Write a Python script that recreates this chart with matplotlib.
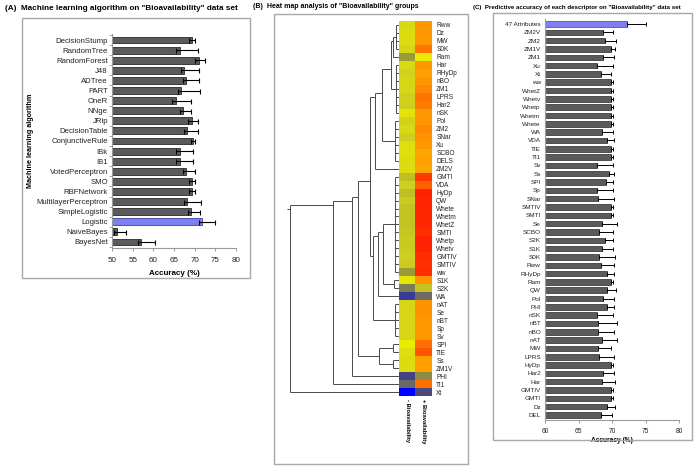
import numpy as np
import matplotlib.pyplot as plt
from matplotlib.colors import LinearSegmentedColormap
from matplotlib.patches import Rectangle

plt.rcParams['font.family'] = ['Liberation Sans', 'DejaVu Sans']

# (A) classifiers
algos = ['DecisionStump', 'RandomTree', 'RandomForest', 'J48', 'ADTree', 'PART', 'OneR',
         'NNge', 'JRip', 'DecisionTable', 'ConjunctiveRule', 'IBk', 'IB1', 'VotedPerceptron',
         'SMO', 'RBFNetwork', 'MultilayerPerceptron', 'SimpleLogistic', 'Logistic',
         'NaiveBayes', 'BayesNet']
algo_acc = [69.4, 66.5, 71.0, 67.5, 68.0, 66.8, 65.4, 67.2, 69.3, 68.2, 69.5, 66.4, 66.4,
            68.0, 69.3, 69.3, 68.2, 69.2, 71.8, 51.1, 57.1]
algo_err_hi = [0.7, 4.4, 1.5, 3.5, 3.1, 4.5, 3.7, 1.9, 1.6, 2.7, 0.5, 3.2, 3.2, 2.0, 0.7,
               0.7, 3.3, 2.1, 3.2, 2.2, 3.3]
algo_err_lo = [0.7, 0.9, 0.8, 0.8, 0.8, 0.8, 0.8, 0.8, 0.8, 0.8, 0.5, 0.8, 0.8, 0.8, 0.7,
               0.7, 0.8, 0.8, 0.8, 0.6, 0.8]

# (B) heat map rows (top to bottom) and colour scores for the two groups
rows = ['Rww', 'Dz', 'MW', 'S0K', 'Ram', 'Har', 'RHyDp', 'nBO', 'ZM1', 'LPRS', 'Har2', 'nSK',
        'Pol', 'ZM2', 'SNar', 'Xu', 'SCBO', 'DELS', 'ZM2V', 'GMTI', 'VDA', 'HyDp', 'QW',
        'Whete', 'Whetm', 'WhetZ', 'SMTI', 'Whetp', 'Whetv', 'GMTIV', 'SMTIV', 'ww', 'S1K',
        'S2K', 'WA', 'nAT', 'Se', 'nBT', 'Sp', 'Sv', 'SPI', 'TIE', 'Ss', 'ZM1V', 'PHI', 'TI1', 'Xt']
neg_bio = [.62, .63, .63, .61, .45, .62, .60, .61, .61, .59, .59, .65, .60, .62, .59, .64,
           .64, .63, .63, .55, .59, .55, .58, .56, .56, .56, .57, .58, .58, .59, .58, .45,
           .66, .35, .12, .61, .61, .61, .61, .61, .67, .64, .63, .63, .14, .28, .0]
pos_bio = [.79, .79, .79, .84, .67, .79, .78, .79, .81, .84, .83, .79, .79, .81, .80, .79,
           .77, .78, .77, .94, .87, .98, .97, .97, .97, .97, .96, .98, .98, .96, .95, .96,
           .80, .56, .30, .80, .80, .79, .79, .79, .85, .89, .78, .78, .40, .85, .15]
# dendrogram merges: (node, height, children); ints are rows, strings earlier nodes
tree = [
    ('a', 3, [0, 1, 2, 3]),
    ('b', 6, ['a', 4]),
    ('c', 3, [5, 6, 7, 8, 9, 10, 11]),
    ('d', 8, ['b', 'c']),
    ('e', 4, [12, 13, 14, 15, 16, 17]),
    ('f', 17, ['d', 'e']),
    ('g', 24, ['f', 18]),
    ('h', 4, [19, 20, 21, 22, 23, 24, 25, 26, 27, 28, 29, 30, 31]),
    ('i', 5, [32, 33]),
    ('j', 16, ['h', 'i']),
    ('k', 21, ['j', 34]),
    ('l', 4, [35, 36, 37, 38, 39]),
    ('m', 26, ['k', 'l']),
    ('n', 29, ['g', 'm']),
    ('o', 6, [40, 41]),
    ('p', 6, [42, 43]),
    ('q', 20, ['o', 'p']),
    ('r', 41, ['n', 'q']),
    ('s', 47, ['r', 44]),
    ('t', 66, ['s', 45]),
    ('u', 109, ['t', 46]),
]

# (C) single descriptors
desc = ['47 Attributes', 'ZM2V', 'ZM2', 'ZM1V', 'ZM1', 'Xu', 'Xt', 'ww', 'WhetZ', 'Whetv',
        'Whetp', 'Whetm', 'Whete', 'WA', 'VDA', 'TIE', 'TI1', 'Sv', 'Ss', 'SPI', 'Sp', 'SNar',
        'SMTIV', 'SMTI', 'Se', 'SCBO', 'S2K', 'S1K', 'S0K', 'Rww', 'RHyDp', 'Ram', 'QW', 'Pol',
        'PHI', 'nSK', 'nBT', 'nBO', 'nAT', 'MW', 'LPRS', 'HyDp', 'Har2', 'Har', 'GMTIV',
        'GMTI', 'Dz', 'DEL']
desc_acc = [72.2, 68.6, 68.9, 69.8, 68.6, 67.8, 68.3, 69.9, 69.9, 69.9, 69.9, 69.9, 69.9,
            68.5, 69.3, 69.9, 69.8, 67.8, 69.5, 69.1, 67.7, 67.9, 69.9, 69.9, 68.5, 68.1,
            69.0, 68.5, 68.1, 68.3, 69.3, 69.9, 69.2, 68.7, 69.3, 67.8, 67.9, 67.9, 68.5,
            67.9, 68.1, 69.9, 68.7, 68.5, 69.9, 69.9, 69.2, 68.3]
desc_err = [2.8, 1.6, 1.7, 0.7, 1.7, 2.3, 1.6, 0.2, 0.2, 0.2, 0.2, 0.2, 0.2, 1.7, 1.0, 0.2,
            0.3, 2.4, 0.8, 1.1, 2.4, 2.4, 0.2, 0.2, 2.2, 2.1, 1.2, 1.7, 2.3, 2.0, 1.0, 0.2,
            1.4, 1.6, 1.0, 2.4, 2.8, 2.4, 2.3, 1.9, 2.2, 0.2, 1.6, 2.0, 0.2, 0.2, 1.3, 1.7]

W, H = 697, 469
fig = plt.figure(figsize=(W / 100, H / 100), dpi=100)


def box(l, t, r, b):
    # pixel box -> figure fraction
    return [l / W, 1 - b / H, (r - l) / W, (b - t) / H]


def frame(l, t, r, b):
    fig.add_artist(Rectangle((l / W, 1 - b / H), (r - l) / W, (b - t) / H,
                             transform=fig.transFigure, fill=False,
                             edgecolor='#a8a8a8', lw=1.0))


def style_bar_axes(ax):
    for s in ['top', 'right']:
        ax.spines[s].set_visible(False)
    for s in ['left', 'bottom']:
        ax.spines[s].set_color('#9a9a9a')
        ax.spines[s].set_linewidth(0.8)
    ax.tick_params(axis='x', colors='#9a9a9a', length=2.5, width=0.7, labelcolor='#222222')
    ax.tick_params(axis='y', which='major', length=0, pad=3, labelcolor='#222222')


GRAY = '#5b5b5b'
BLUE = '#7f7ff0'

# ---------- (A)
frame(22, 18, 250, 278)
fig.text(5 / W, 1 - 8 / H, '(A)  Machine learning algorithm on "Bioavailability" data set',
         fontsize=5.9, fontweight='bold', va='center')
axA = fig.add_axes(box(112, 34, 236, 248))
yA = np.arange(len(algos))
colA = [BLUE if a == 'Logistic' else GRAY for a in algos]
edA = ['#3f3fa8' if a == 'Logistic' else '#2a2a2a' for a in algos]
axA.barh(yA, algo_acc, height=0.68, color=colA, edgecolor=edA, linewidth=0.6)
axA.errorbar(algo_acc, yA, xerr=[algo_err_lo, algo_err_hi], fmt='none', ecolor='black',
             elinewidth=0.8, capsize=1.8, capthick=0.8)
axA.set_xlim(50, 80)
axA.set_ylim(len(algos) - 0.4, -0.6)
axA.set_xticks([50, 55, 60, 65, 70, 75, 80])
axA.set_yticks(yA)
axA.set_yticklabels(algos, fontsize=5.6)
axA.set_yticks(np.arange(len(algos) + 1) - 0.5, minor=True)
axA.tick_params(axis='y', which='minor', length=2, color='#9a9a9a', width=0.6)
axA.tick_params(axis='x', labelsize=5.8, pad=4)
style_bar_axes(axA)
axA.set_xlabel('Accuracy (%)', fontsize=5.8, fontweight='bold', labelpad=4)
fig.text(30 / W, 1 - 141 / H, 'Machine learning algorithm', rotation=90, fontsize=5.2,
         fontweight='bold', ha='center', va='center')

# ---------- (B)
frame(274, 14, 468, 464)
fig.text(253 / W, 1 - 6 / H, '(B)  Heat map analysis of "Bioavailability" groups',
         fontsize=5.0, fontweight='bold', va='center')
cmap = LinearSegmentedColormap.from_list('bio', [
    (0.0, '#0000ff'), (0.15, '#4a4a7c'), (0.3, '#6e6e64'), (0.45, '#9a9a38'),
    (0.6, '#d2d21c'), (0.68, '#eeee00'), (0.78, '#ffa000'), (0.88, '#ff5a00'),
    (1.0, '#ff1800')])
axH = fig.add_axes(box(399, 21, 432, 396))
axH.imshow(np.column_stack([neg_bio, pos_bio]), cmap=cmap, vmin=0, vmax=1,
           aspect='auto', interpolation='nearest')
axH.set_xticks([])
axH.set_yticks(np.arange(len(rows)))
axH.set_yticklabels(rows, fontsize=4.7, color='#222222')
axH.yaxis.tick_right()
axH.tick_params(axis='y', length=0, pad=3)
for s in axH.spines.values():
    s.set_visible(False)
axH.text(0, len(rows) - 0.1, '- Bioavailability', rotation=-90, ha='center', va='top',
         fontsize=4.2, fontweight='bold')
axH.text(1, len(rows) - 0.1, '+ Bioavailability', rotation=-90, ha='center', va='top',
         fontsize=4.2, fontweight='bold')

axD = fig.add_axes(box(285, 21, 399, 396))
axD.set_xlim(114, 0)
axD.set_ylim(len(rows) - 0.5, -0.5)
axD.axis('off')
pos, hgt, leaves = {}, {}, {}
lk = dict(color='#4a4a4a', lw=0.7, solid_capstyle='butt')
for name, h, kids in tree:
    ps, ls = [], []
    for c in kids:
        if isinstance(c, str):
            p, ch, lv = pos[c], hgt[c], leaves[c]
        else:
            p, ch, lv = c, 0, [c]
        axD.plot([ch, h], [p, p], **lk)
        ps.append(p)
        ls += lv
    axD.plot([h, h], [min(ps), max(ps)], **lk)
    pos[name], hgt[name], leaves[name] = np.mean(ls), h, ls
root = tree[-1][0]
axD.plot([hgt[root], hgt[root] + 3], [pos[root]] * 2, **lk)

# ---------- (C)
frame(493, 13, 692, 440)
fig.text(473 / W, 1 - 7 / H,
         '(C)  Predictive accuracy of each descriptor on "Bioavailability" data set',
         fontsize=4.4, fontweight='bold', va='center')
axC = fig.add_axes(box(545, 19, 679, 420))
yC = np.arange(len(desc))
colC = [BLUE if d == '47 Attributes' else GRAY for d in desc]
edC = ['#3f3fa8' if d == '47 Attributes' else '#2a2a2a' for d in desc]
axC.barh(yC, desc_acc, height=0.66, color=colC, edgecolor=edC, linewidth=0.5)
axC.errorbar(desc_acc, yC, xerr=[np.zeros(len(desc)), desc_err], fmt='none',
             ecolor='black', elinewidth=0.7, capsize=1.4, capthick=0.7)
axC.set_xlim(60, 80)
axC.set_ylim(len(desc) - 0.4, -0.6)
axC.set_xticks([60, 65, 70, 75, 80])
axC.set_yticks(yC)
axC.set_yticklabels(desc, fontsize=4.6)
axC.tick_params(axis='x', labelsize=4.8, pad=3)
style_bar_axes(axC)
axC.set_xlabel('Accuracy (%)', fontsize=4.8, fontweight='bold', labelpad=2)

fig.savefig('out.png', dpi=100)
